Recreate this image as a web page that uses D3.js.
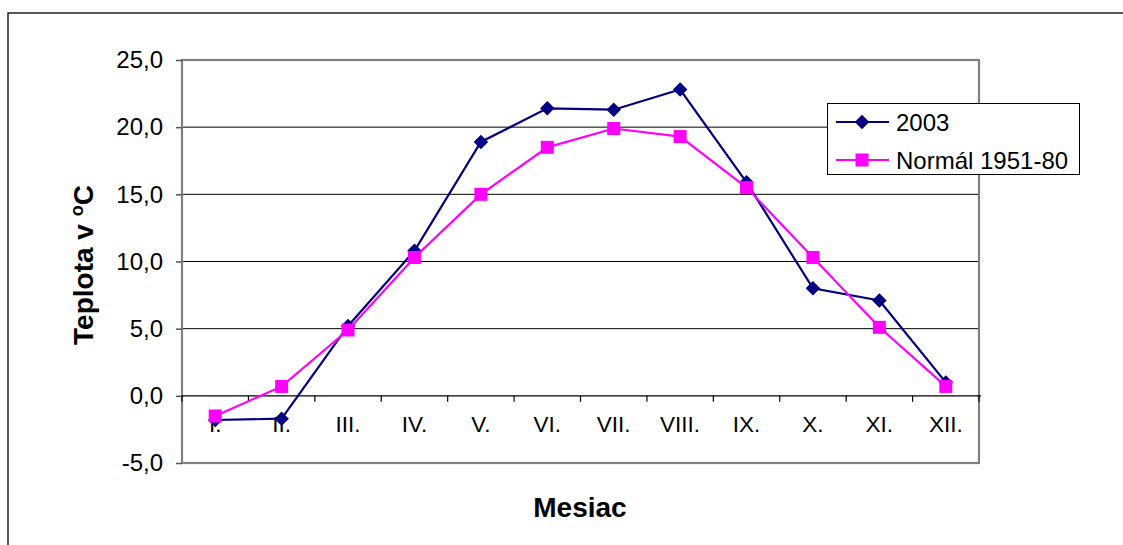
<!DOCTYPE html>
<html>
<head>
<meta charset="utf-8">
<script src="https://cdn.jsdelivr.net/npm/d3@7"></script>
<style>
  html, body { margin: 0; padding: 0; background: #fff; }
  svg { display: block; font-family: "Liberation Sans", Arial, sans-serif; }
</style>
</head>
<body>
<svg id="chart" width="1123" height="545"></svg>
<script>
// Monthly mean temperatures (°C)
const months = ["I.", "II.", "III.", "IV.", "V.", "VI.", "VII.", "VIII.", "IX.", "X.", "XI.", "XII."];
const temps2003 = [-1.8, -1.7, 5.2, 10.8, 18.9, 21.4, 21.3, 22.8, 15.9, 8.0, 7.1, 1.0];
const tempsNormal = [-1.5, 0.7, 4.9, 10.3, 15.0, 18.5, 19.9, 19.3, 15.5, 10.3, 5.1, 0.7];
const yTicks = [-5, 0, 5, 10, 15, 20, 25];
const seriesNames = ["2003", "Normál 1951-80"];

const svg = d3.select("#chart");

// outer chart frame (runs off the right and bottom edges)
svg.append("rect")
  .attr("x", 8).attr("y", 13)
  .attr("width", 1140).attr("height", 560)
  .attr("fill", "#fff").attr("stroke", "#000").attr("stroke-width", 1.3);

const plot = { left: 182, right: 979, top: 60, bottom: 463 };

const x = d3.scaleBand().domain(months).range([plot.left, plot.right]).padding(0);
const y = d3.scaleLinear().domain([-5, 25]).range([plot.bottom, plot.top]);
// one decimal, comma separator, plain hyphen for negatives
const fmt = v => v.toFixed(1).replace(".", ",");

// horizontal gridlines
svg.append("g")
  .selectAll("line")
  .data(yTicks.filter(v => v > -5 && v < 25 && v !== 0))
  .join("line")
  .attr("x1", plot.left).attr("x2", plot.right)
  .attr("y1", d => y(d)).attr("y2", d => y(d))
  .attr("stroke", "#000").attr("stroke-width", 1);

// plot area border
svg.append("rect")
  .attr("x", plot.left).attr("y", plot.top)
  .attr("width", plot.right - plot.left).attr("height", plot.bottom - plot.top)
  .attr("fill", "none").attr("stroke", "#808080").attr("stroke-width", 2.2);

// value axis
const yAxis = d3.axisLeft(y).tickValues(yTicks).tickSize(6).tickPadding(13).tickFormat(fmt);
const gy = svg.append("g").attr("transform", `translate(${plot.left},0)`).call(yAxis);
gy.select(".domain").remove();
gy.selectAll(".tick line").attr("stroke", "#555").attr("stroke-width", 1.5);
gy.selectAll(".tick text")
  .attr("font-family", "Liberation Sans, Arial, sans-serif")
  .attr("font-size", 24).attr("fill", "#000");

// category axis along the zero line
const gx = svg.append("g").attr("transform", `translate(0,${y(0)})`);
gx.append("line")
  .attr("x1", plot.left).attr("x2", plot.right + 2)
  .attr("stroke", "#000").attr("stroke-width", 1.3);
const bounds = months.map(m => x(m)).concat([x(months[months.length - 1]) + x.bandwidth()]);
gx.selectAll("line.tk").data(bounds).join("line")
  .attr("class", "tk")
  .attr("x1", d => d).attr("x2", d => d)
  .attr("y1", 0).attr("y2", 6)
  .attr("stroke", "#000").attr("stroke-width", 1.2);
gx.selectAll("text").data(months).join("text")
  .attr("x", d => x(d) + x.bandwidth() / 2)
  .attr("y", 36)
  .attr("text-anchor", "middle")
  .attr("font-size", 22.5)
  .attr("fill", "#000")
  .text(d => d);

// series
const cx = (d, i) => x(months[i]) + x.bandwidth() / 2;
const line = d3.line().x((d, i) => cx(d, i)).y(d => y(d));

const colors = ["#000080", "#FF00FF"];

svg.append("path").datum(temps2003)
  .attr("d", line).attr("fill", "none")
  .attr("stroke", colors[0]).attr("stroke-width", 2.2);
const diamond = d3.symbol().type(d3.symbolSquare).size(105);
svg.append("g").selectAll("path").data(temps2003).join("path")
  .attr("d", diamond)
  .attr("transform", (d, i) => `translate(${cx(d, i)},${y(d)}) rotate(45)`)
  .attr("fill", colors[0]);

svg.append("path").datum(tempsNormal)
  .attr("d", line).attr("fill", "none")
  .attr("stroke", colors[1]).attr("stroke-width", 2.2);
svg.append("g").selectAll("rect").data(tempsNormal).join("rect")
  .attr("x", (d, i) => cx(d, i) - 6.5)
  .attr("y", d => y(d) - 6.5)
  .attr("width", 13).attr("height", 13)
  .attr("fill", colors[1]);

// legend
const lg = svg.append("g");
lg.append("rect")
  .attr("x", 827.5).attr("y", 103.5).attr("width", 252).attr("height", 71)
  .attr("fill", "#fff").attr("stroke", "#000").attr("stroke-width", 1);
seriesNames.forEach((name, i) => {
  const ly = 122 + i * 38;
  lg.append("line").attr("x1", 836).attr("x2", 889).attr("y1", ly).attr("y2", ly)
    .attr("stroke", colors[i]).attr("stroke-width", 2.2);
  if (i === 0) {
    lg.append("path").attr("d", diamond)
      .attr("transform", `translate(862,${ly}) rotate(45)`).attr("fill", colors[0]);
  } else {
    lg.append("rect").attr("x", 862 - 6.5).attr("y", ly - 6.5)
      .attr("width", 13).attr("height", 13).attr("fill", colors[1]);
  }
  lg.append("text").attr("x", 896).attr("y", ly + 8.5)
    .attr("font-size", 24).attr("fill", "#000").text(name);
});

// axis titles
const yt = svg.append("text")
  .attr("transform", "translate(93,265) rotate(-90)")
  .attr("text-anchor", "middle")
  .attr("font-size", 28).attr("font-weight", "bold").attr("fill", "#000");
yt.append("tspan").text("Teplota v ");
yt.append("tspan").attr("font-size", 18).attr("dy", -10).text("o");
yt.append("tspan").attr("dy", 10).text("C");

svg.append("text")
  .attr("x", 580).attr("y", 517)
  .attr("text-anchor", "middle")
  .attr("font-size", 28).attr("font-weight", "bold").attr("fill", "#000")
  .text("Mesiac");
</script>
</body>
</html>
